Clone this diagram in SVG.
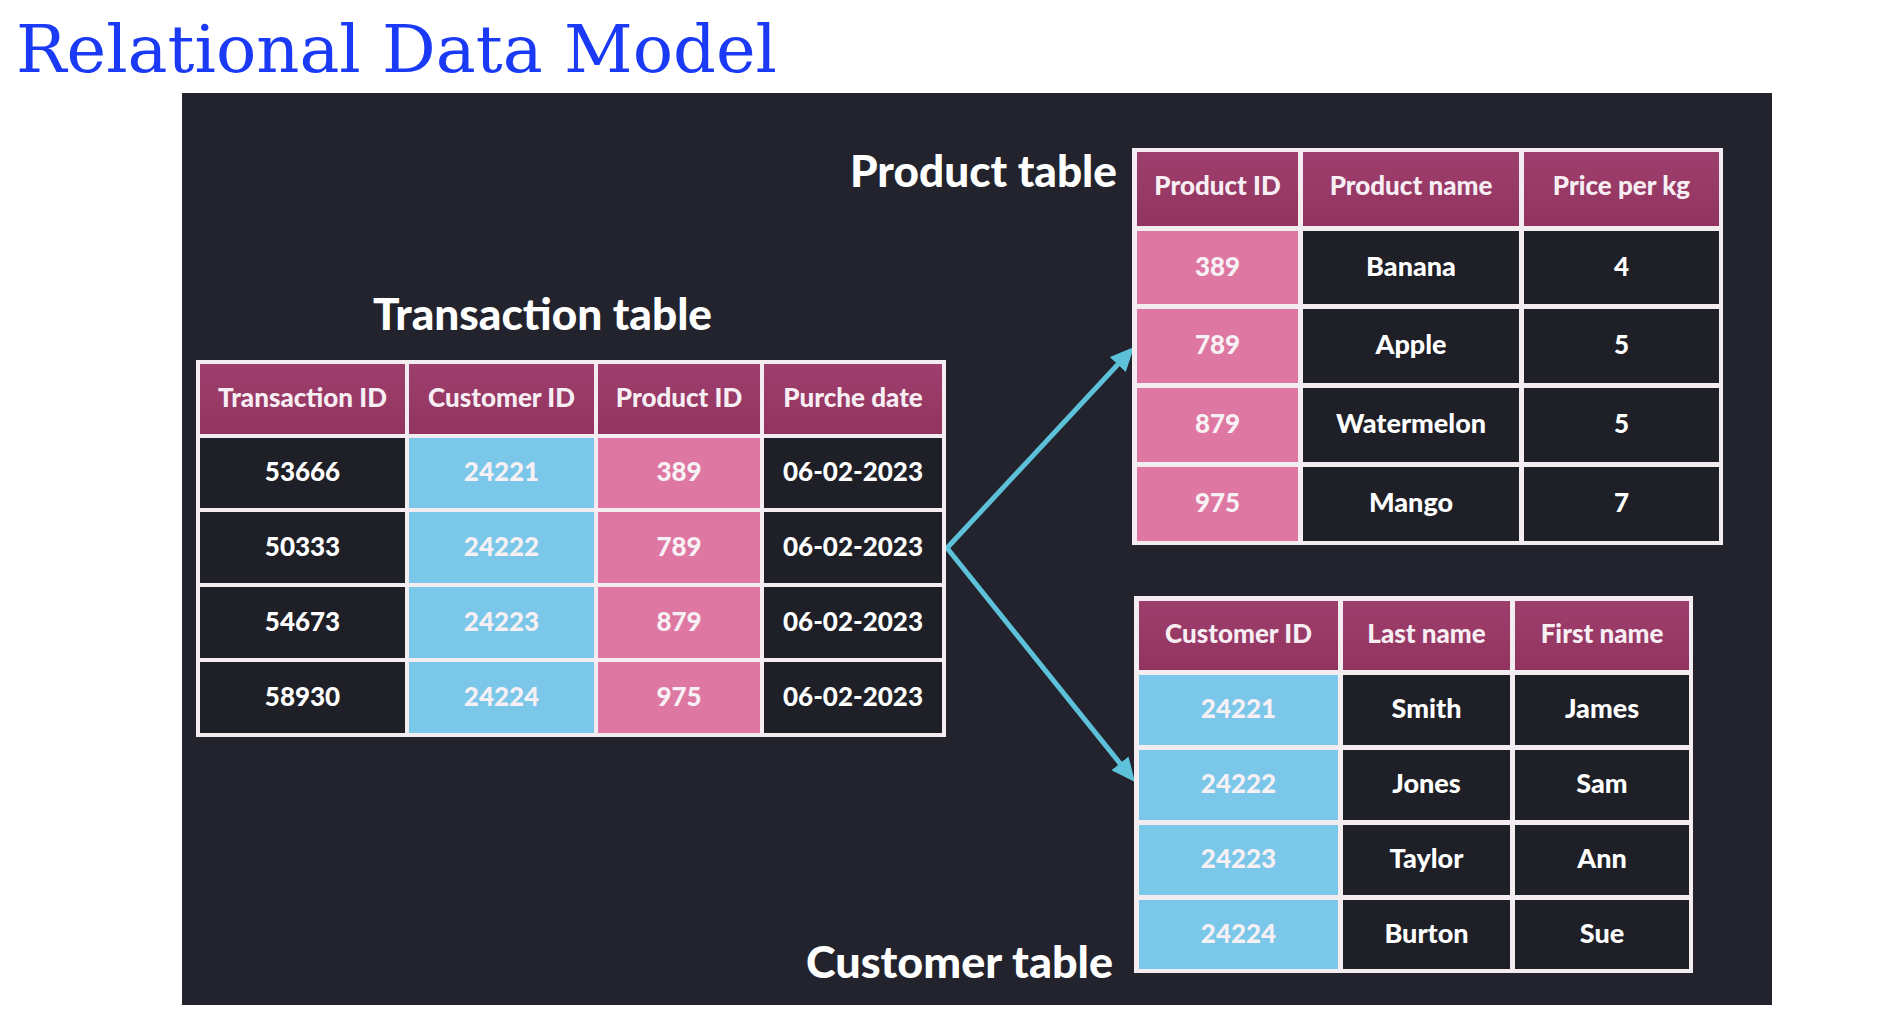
<svg xmlns="http://www.w3.org/2000/svg" width="1888" height="1034" viewBox="0 0 1888 1034">
<style>
.frame{fill:#f3edf1}
.hd{fill:url(#hdg)}
.dk{fill:#1e1f27}
.pk{fill:#de77a1}
.bl{fill:#7bc7e9}
.th{font-family:Lato,"Noto Sans",sans-serif;font-weight:900;font-size:26px;fill:#f7eef4;text-anchor:middle}
.td{font-family:Lato,"Noto Sans",sans-serif;font-weight:900;font-size:26px;fill:#ffffff;text-anchor:middle}
.tw{font-size:27px}
.tl{fill:#f7f0f4}
.lbl{font-family:Lato,"Noto Sans",sans-serif;font-weight:900;font-size:43px;fill:#ffffff}
.conn{fill:none;stroke:#5cc1d9;stroke-width:5;stroke-linecap:round}
</style>
<defs>
<linearGradient id="hdg" x1="0" y1="0" x2="0" y2="1">
<stop offset="0" stop-color="#9e3e6d"/>
<stop offset="1" stop-color="#92345f"/>
</linearGradient>
<marker id="ah" viewBox="0 0 24 22" refX="10" refY="11" markerWidth="24" markerHeight="22" markerUnits="userSpaceOnUse" orient="auto">
<path d="M0,0 L24,11 L0,22 z" fill="#5cc1d9"/>
</marker>
</defs>
<rect x="0" y="0" width="1888" height="1034" fill="#ffffff"/>
<text x="16" y="72" font-family="DejaVu Serif, Liberation Serif, serif" font-size="66" fill="#1a3af5" textLength="761" lengthAdjust="spacingAndGlyphs">Relational Data Model</text>
<rect x="182" y="93" width="1590" height="912" fill="#22232d"/>

<g id="connectors">
<path class="conn" d="M947,548 L1124.5,357.2" marker-end="url(#ah)"/>
<path class="conn" d="M947,548 L1126.2,771.1" marker-end="url(#ah)"/>
</g>

<g id="transaction-table">
<text class="lbl" x="373" y="330" textLength="339" lengthAdjust="spacingAndGlyphs">Transaction table</text>
<rect class="frame" x="196" y="360" width="750" height="377"/>
<rect class="hd" x="200" y="364" width="205" height="70"/>
<rect class="hd" x="409" y="364" width="185" height="70"/>
<rect class="hd" x="598" y="364" width="162" height="70"/>
<rect class="hd" x="764" y="364" width="178" height="70"/>
<text class="th" x="302.5" y="407">Transaction ID</text>
<text class="th" x="501.5" y="407">Customer ID</text>
<text class="th" x="679" y="407">Product ID</text>
<text class="th" x="853" y="407">Purche date</text>

<rect class="dk" x="200" y="438" width="205" height="70"/>
<rect class="bl" x="409" y="438" width="185" height="70"/>
<rect class="pk" x="598" y="438" width="162" height="70"/>
<rect class="dk" x="764" y="438" width="178" height="70"/>
<text class="td" x="302.5" y="481">53666</text>
<text class="td tl" x="501.5" y="481">24221</text>
<text class="td tl" x="679" y="481">389</text>
<text class="td" x="853" y="481">06-02-2023</text>

<rect class="dk" x="200" y="512" width="205" height="71"/>
<rect class="bl" x="409" y="512" width="185" height="71"/>
<rect class="pk" x="598" y="512" width="162" height="71"/>
<rect class="dk" x="764" y="512" width="178" height="71"/>
<text class="td" x="302.5" y="555.5">50333</text>
<text class="td tl" x="501.5" y="555.5">24222</text>
<text class="td tl" x="679" y="555.5">789</text>
<text class="td" x="853" y="555.5">06-02-2023</text>

<rect class="dk" x="200" y="587" width="205" height="71"/>
<rect class="bl" x="409" y="587" width="185" height="71"/>
<rect class="pk" x="598" y="587" width="162" height="71"/>
<rect class="dk" x="764" y="587" width="178" height="71"/>
<text class="td" x="302.5" y="630.5">54673</text>
<text class="td tl" x="501.5" y="630.5">24223</text>
<text class="td tl" x="679" y="630.5">879</text>
<text class="td" x="853" y="630.5">06-02-2023</text>

<rect class="dk" x="200" y="662" width="205" height="71"/>
<rect class="bl" x="409" y="662" width="185" height="71"/>
<rect class="pk" x="598" y="662" width="162" height="71"/>
<rect class="dk" x="764" y="662" width="178" height="71"/>
<text class="td" x="302.5" y="705.5">58930</text>
<text class="td tl" x="501.5" y="705.5">24224</text>
<text class="td tl" x="679" y="705.5">975</text>
<text class="td" x="853" y="705.5">06-02-2023</text>
</g>

<g id="product-table">
<text class="lbl" x="850" y="187" textLength="267" lengthAdjust="spacingAndGlyphs">Product table</text>
<rect class="frame" x="1132" y="148" width="591" height="397"/>
<rect class="hd" x="1137" y="152" width="161" height="74"/>
<rect class="hd" x="1303" y="152" width="216" height="74"/>
<rect class="hd" x="1524" y="152" width="195" height="74"/>
<text class="th" x="1217.5" y="195">Product ID</text>
<text class="th" x="1411" y="195">Product name</text>
<text class="th" x="1621.5" y="195">Price per kg</text>

<rect class="pk" x="1137" y="231" width="161" height="73"/>
<rect class="dk" x="1303" y="231" width="216" height="73"/>
<rect class="dk" x="1524" y="231" width="195" height="73"/>
<text class="td tl" x="1217.5" y="275.5">389</text>
<text class="td tw" x="1411" y="275.5">Banana</text>
<text class="td" x="1621.5" y="275.5">4</text>

<rect class="pk" x="1137" y="309" width="161" height="74"/>
<rect class="dk" x="1303" y="309" width="216" height="74"/>
<rect class="dk" x="1524" y="309" width="195" height="74"/>
<text class="td tl" x="1217.5" y="354">789</text>
<text class="td tw" x="1411" y="354">Apple</text>
<text class="td" x="1621.5" y="354">5</text>

<rect class="pk" x="1137" y="388" width="161" height="74"/>
<rect class="dk" x="1303" y="388" width="216" height="74"/>
<rect class="dk" x="1524" y="388" width="195" height="74"/>
<text class="td tl" x="1217.5" y="433">879</text>
<text class="td tw" x="1411" y="433">Watermelon</text>
<text class="td" x="1621.5" y="433">5</text>

<rect class="pk" x="1137" y="467" width="161" height="74"/>
<rect class="dk" x="1303" y="467" width="216" height="74"/>
<rect class="dk" x="1524" y="467" width="195" height="74"/>
<text class="td tl" x="1217.5" y="512">975</text>
<text class="td tw" x="1411" y="512">Mango</text>
<text class="td" x="1621.5" y="512">7</text>
</g>

<g id="customer-table">
<text class="lbl" x="806" y="978" textLength="307" lengthAdjust="spacingAndGlyphs">Customer table</text>
<rect class="frame" x="1134" y="596" width="559" height="377"/>
<rect class="hd" x="1139" y="601" width="199" height="69"/>
<rect class="hd" x="1343" y="601" width="167" height="69"/>
<rect class="hd" x="1515" y="601" width="174" height="69"/>
<text class="th" x="1238.5" y="642.5">Customer ID</text>
<text class="th" x="1426.5" y="642.5">Last name</text>
<text class="th" x="1602" y="642.5">First name</text>

<rect class="bl" x="1139" y="675" width="199" height="70"/>
<rect class="dk" x="1343" y="675" width="167" height="70"/>
<rect class="dk" x="1515" y="675" width="174" height="70"/>
<text class="td tl" x="1238.5" y="718">24221</text>
<text class="td tw" x="1426.5" y="718">Smith</text>
<text class="td tw" x="1602" y="718">James</text>

<rect class="bl" x="1139" y="750" width="199" height="70"/>
<rect class="dk" x="1343" y="750" width="167" height="70"/>
<rect class="dk" x="1515" y="750" width="174" height="70"/>
<text class="td tl" x="1238.5" y="793">24222</text>
<text class="td tw" x="1426.5" y="793">Jones</text>
<text class="td tw" x="1602" y="793">Sam</text>

<rect class="bl" x="1139" y="825" width="199" height="70"/>
<rect class="dk" x="1343" y="825" width="167" height="70"/>
<rect class="dk" x="1515" y="825" width="174" height="70"/>
<text class="td tl" x="1238.5" y="868">24223</text>
<text class="td tw" x="1426.5" y="868">Taylor</text>
<text class="td tw" x="1602" y="868">Ann</text>

<rect class="bl" x="1139" y="900" width="199" height="69"/>
<rect class="dk" x="1343" y="900" width="167" height="69"/>
<rect class="dk" x="1515" y="900" width="174" height="69"/>
<text class="td tl" x="1238.5" y="942.5">24224</text>
<text class="td tw" x="1426.5" y="942.5">Burton</text>
<text class="td tw" x="1602" y="942.5">Sue</text>
</g>
</svg>
